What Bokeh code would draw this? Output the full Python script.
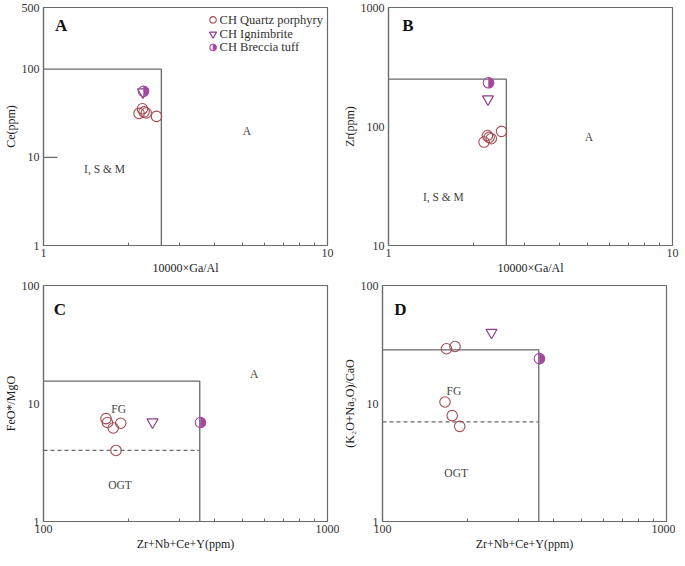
import math
from bokeh.plotting import figure
from bokeh.layouts import column, row
from bokeh.models import FixedTicker, PrintfTickFormatter, Range1d, LinearScale
from bokeh.core.properties import value
from bokeh.embed import file_html
from bokeh.resources import INLINE

# ---------------- data ----------------
SERIES = ["CH Quartz porphyry", "CH Ignimbrite", "CH Breccia tuff"]

# CH Quartz porphyry (5 samples)
qp_ga_al = [2.17, 2.23, 2.26, 2.30, 2.50]
qp_ce = [31.5, 35.5, 32.8, 31.8, 29.1]
qp_zr = [74, 84, 81, 79, 91]
qp_sum = [166, 168, 176, 180, 187]
qp_feo_mgo = [7.45, 6.9, 6.2, 4.0, 6.8]
qp_alk_cao = [10.3, 29.1, 7.9, 30.4, 6.4]

# CH Ignimbrite
ig_ga_al = [2.24]
ig_ce = [55]
ig_zr = [170]
ig_sum = [242]
ig_feo_mgo = [6.95]
ig_alk_cao = [40]

# CH Breccia tuff
bt_ga_al = [2.25]
bt_ce = [56]
bt_zr = [233]
bt_sum = [357]
bt_feo_mgo = [6.9]
bt_alk_cao = [24]

# classification boundaries (Whalen et al.)
GA_AL_LIMIT = 2.6
CE_LIMIT = 100
CE_STUB = 10
CE_STUB_END = 1.12
ZR_LIMIT = 250
SUM_LIMIT = 355
FEO_MGO_LIMIT = 15.5
FEO_MGO_FG_OGT = 4
ALK_LIMIT = 28.5
ALK_FG_OGT = 7

# axis ticks
GA_TICKS = [1, 10]
GA_MINOR = [2, 3, 4, 5, 6, 7, 8, 9]
SUM_TICKS = [100, 1000]
SUM_MINOR = [200, 300, 400, 500, 600, 700, 800, 900]
CE_TICKS = [1, 10, 100, 500]
ZR_TICKS = [10, 100, 1000]
RATIO_TICKS = [1, 10, 100]

# region labels: (x, y, text)
A_REGIONS = ([1.64, 5.2], [7.4, 20], ["I, S & M", "A"])
B_REGIONS = ([1.56, 5.08], [25.5, 82], ["I, S & M", "A"])
C_REGIONS = ([184, 186, 552], [9.0, 2.02, 17.7], ["FG", "OGT", "A"])
D_REGIONS = ([178.5, 181.7], [12.7, 2.6], ["FG", "OGT"])

# ---------------- style ----------------
FONT = "Liberation Serif"
FRAME = "#6a6a6a"
QP_COLOR = "#a24a52"
IG_COLOR = "#8e3d8e"
BT_COLOR = "#a5489f"
TXT = "#333333"

FW = 284
H1 = 238
H2 = 236
LEFT_L = 36
LEFT_R = 42


def make_panel(xr, yr, xticks, xminor, yticks, xlabel, ylabel, fh, left, right, top, letter, letter_pos):
    p = figure(x_axis_type="log", y_axis_type="log",
               x_range=Range1d(*xr), y_range=Range1d(*yr),
               frame_width=FW, frame_height=fh,
               output_backend="svg", toolbar_location=None,
               min_border_left=left, min_border_right=right,
               min_border_top=top, min_border_bottom=30)
    p.grid.visible = False
    p.outline_line_color = FRAME
    p.outline_line_width = 1.2
    p.background_fill_color = "white"
    p.border_fill_color = "white"

    xa = p.xaxis[0]
    xa.ticker = FixedTicker(ticks=xticks, minor_ticks=xminor)
    xa.formatter = PrintfTickFormatter(format="%d")
    xa.major_tick_in = 0
    xa.major_tick_out = 0
    xa.minor_tick_in = 3
    xa.minor_tick_out = 0
    xa.minor_tick_line_color = FRAME
    xa.axis_line_color = FRAME
    xa.axis_line_width = 1.2
    xa.major_label_standoff = 3
    xa.axis_label = xlabel
    xa.axis_label_standoff = 1

    ya = p.yaxis[0]
    ya.ticker = FixedTicker(ticks=yticks, minor_ticks=[])
    ya.formatter = PrintfTickFormatter(format="%d")
    ya.major_tick_in = 0
    ya.major_tick_out = 0
    ya.minor_tick_in = 0
    ya.minor_tick_out = 0
    ya.axis_line_color = FRAME
    ya.axis_line_width = 1.2
    ya.major_label_standoff = 4
    ya.axis_label = ylabel
    ya.axis_label_standoff = 1

    for ax in (xa, ya):
        ax.major_label_text_font = FONT
        ax.major_label_text_font_size = "12px"
        ax.major_label_text_color = TXT
        ax.axis_label_text_font = FONT
        ax.axis_label_text_font_size = "12px"
        ax.axis_label_text_font_style = "normal"
        ax.axis_label_text_color = "#222222"

    p.extra_x_ranges = {"fx": Range1d(0, 1)}
    p.extra_y_ranges = {"fy": Range1d(0, 1)}
    p.extra_x_scales = {"fx": LinearScale()}
    p.extra_y_scales = {"fy": LinearScale()}

    p.text(x=[letter_pos[0]], y=[letter_pos[1]], text=[letter],
           x_range_name="fx", y_range_name="fy",
           text_font=value(FONT), text_font_style="bold", text_font_size="17px",
           text_color="#111111", text_align="center", text_baseline="middle")
    return p


def boundary(p, xs, ys, dash="solid"):
    p.line(xs, ys, line_color=FRAME, line_width=1.3, line_dash=dash)


def regions(p, reg):
    xs, ys, labels = reg
    p.text(x=xs, y=ys, text=labels, text_font=value(FONT), text_font_size="11.5px",
           text_color="#444444", text_align="center", text_baseline="middle")


def points(p, qx, qy, ix, iy, bx, by):
    p.scatter(qx, qy, marker="circle", size=10.5, fill_color=None,
              line_color=QP_COLOR, line_width=1.1)
    p.scatter(ix, iy, marker="inverted_triangle", size=11, fill_color=None,
              line_color=IG_COLOR, line_width=1.2)
    p.wedge(x=bx, y=by, radius=5.2, radius_units="screen",
            start_angle=-math.pi / 2, end_angle=math.pi / 2,
            fill_color=BT_COLOR, line_color=BT_COLOR, line_width=0.5)
    p.scatter(bx, by, marker="circle", size=10.5, fill_color=None,
              line_color=BT_COLOR, line_width=1.1)


# ---------------- panel A ----------------
pA = make_panel((1, 10), (1, 500), GA_TICKS, GA_MINOR, CE_TICKS,
                "10000×Ga/Al", "Ce(ppm)", H1, LEFT_L, 12, 7, "A", (0.062, 0.925))
boundary(pA, [1, GA_AL_LIMIT, GA_AL_LIMIT], [CE_LIMIT, CE_LIMIT, 1])
boundary(pA, [1, CE_STUB_END], [CE_STUB, CE_STUB])
regions(pA, A_REGIONS)
points(pA, qp_ga_al, qp_ce, ig_ga_al, ig_ce, bt_ga_al, bt_ce)

# legend (drawn in frame-fraction coordinates)
LEG_SYM_X = 0.597
LEG_TXT_X = 0.620
LEG_Y = [0.948, 0.888, 0.832]
pA.scatter([LEG_SYM_X], [LEG_Y[0]], marker="circle", size=6.5, fill_color=None,
           line_color=QP_COLOR, line_width=1.1, x_range_name="fx", y_range_name="fy")
pA.scatter([LEG_SYM_X], [LEG_Y[1]], marker="inverted_triangle", size=7, fill_color=None,
           line_color=IG_COLOR, line_width=1.2, x_range_name="fx", y_range_name="fy")
pA.wedge(x=[LEG_SYM_X], y=[LEG_Y[2]], radius=3.3, radius_units="screen",
         start_angle=-math.pi / 2, end_angle=math.pi / 2,
         fill_color=BT_COLOR, line_color=BT_COLOR, line_width=0.5,
         x_range_name="fx", y_range_name="fy")
pA.scatter([LEG_SYM_X], [LEG_Y[2]], marker="circle", size=6.5, fill_color=None,
           line_color=BT_COLOR, line_width=1.1, x_range_name="fx", y_range_name="fy")
pA.text(x=[LEG_TXT_X] * 3, y=LEG_Y, text=SERIES, x_range_name="fx", y_range_name="fy",
        text_font=value(FONT), text_font_size="12.5px", text_color=TXT,
        text_align="left", text_baseline="middle")

# ---------------- panel B ----------------
pB = make_panel((1, 10), (10, 1000), GA_TICKS, GA_MINOR, ZR_TICKS,
                "10000×Ga/Al", "Zr(ppm)", H1, LEFT_R, 9, 7, "B", (0.068, 0.925))
boundary(pB, [1, GA_AL_LIMIT, GA_AL_LIMIT], [ZR_LIMIT, ZR_LIMIT, 10])
regions(pB, B_REGIONS)
points(pB, qp_ga_al, qp_zr, ig_ga_al, ig_zr, bt_ga_al, bt_zr)

# ---------------- panel C ----------------
pC = make_panel((100, 1000), (1, 100), SUM_TICKS, SUM_MINOR, RATIO_TICKS,
                "Zr+Nb+Ce+Y(ppm)", "FeO*/MgO", H2, LEFT_L, 12, 8, "C", (0.058, 0.90))
boundary(pC, [100, SUM_LIMIT, SUM_LIMIT], [FEO_MGO_LIMIT, FEO_MGO_LIMIT, 1])
boundary(pC, [100, SUM_LIMIT], [FEO_MGO_FG_OGT, FEO_MGO_FG_OGT], dash="4 3")
regions(pC, C_REGIONS)
points(pC, qp_sum, qp_feo_mgo, ig_sum, ig_feo_mgo, bt_sum, bt_feo_mgo)

# ---------------- panel D ----------------
pD = make_panel((100, 1000), (1, 100), SUM_TICKS, SUM_MINOR, RATIO_TICKS,
                "Zr+Nb+Ce+Y(ppm)", "(K₂O+Na₂O)/CaO", H2, LEFT_R, 9, 8, "D", (0.063, 0.90))
boundary(pD, [100, SUM_LIMIT, SUM_LIMIT], [ALK_LIMIT, ALK_LIMIT, 1])
boundary(pD, [100, SUM_LIMIT], [ALK_FG_OGT, ALK_FG_OGT], dash="4 3")
regions(pD, D_REGIONS)
points(pD, qp_sum, qp_alk_cao, ig_sum, ig_alk_cao, bt_sum, bt_alk_cao)

layout = column(row(pA, pB), row(pC, pD))
open("out.html", "w").write(file_html(layout, INLINE))
